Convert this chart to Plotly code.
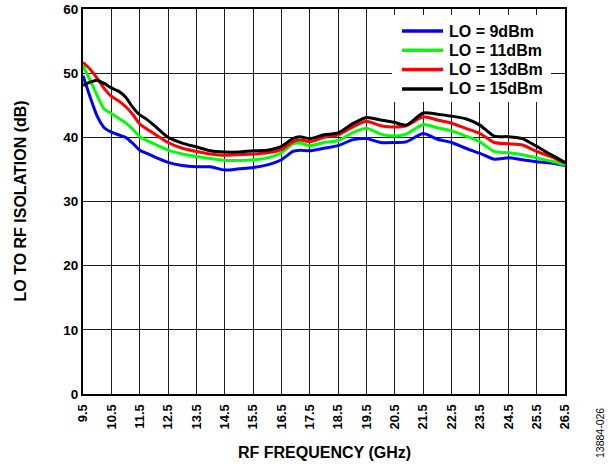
import plotly.graph_objects as go

freq_ghz = [9.5, 9.75, 10.0, 10.25, 10.5, 10.75, 11.0, 11.25, 11.5, 11.75, 12.0, 12.5, 13.0, 13.5,
            14.0, 14.5, 15.0, 15.5, 16.0, 16.5, 16.9, 17.15, 17.5, 18.0, 18.5, 19.0, 19.5, 20.0,
            20.5, 20.9, 21.5, 22.0, 22.5, 23.0, 23.5, 24.0, 24.5, 25.0, 25.5, 26.0, 26.5]

lo_9dbm = [49.6, 46.3, 43.3, 41.5, 40.8, 40.4, 40.0, 39.1, 38.0, 37.5, 37.0, 36.1, 35.6, 35.4,
           35.4, 34.9, 35.1, 35.3, 35.7, 36.5, 37.8, 38.0, 37.9, 38.3, 38.7, 39.6, 39.8, 39.2,
           39.2, 39.3, 40.6, 39.7, 39.2, 38.3, 37.5, 36.6, 36.8, 36.5, 36.2, 36.0, 35.6]

lo_11dbm = [51.2, 48.9, 46.5, 44.4, 43.7, 43.0, 42.3, 41.3, 40.1, 39.5, 39.0, 38.0, 37.4, 37.0,
            36.7, 36.4, 36.4, 36.5, 36.8, 37.6, 39.0, 39.1, 38.7, 39.2, 39.5, 40.7, 41.4, 40.5,
            40.2, 40.5, 42.0, 41.5, 41.0, 40.2, 39.3, 37.8, 37.6, 37.3, 36.8, 36.3, 35.7]

lo_13dbm = [51.7, 50.6, 49.2, 47.6, 46.4, 45.7, 44.8, 43.6, 42.1, 41.3, 40.6, 39.2, 38.3, 37.8,
            37.4, 37.2, 37.3, 37.4, 37.6, 38.1, 39.3, 39.6, 39.3, 40.0, 40.4, 41.6, 42.5, 41.8,
            41.6, 41.8, 43.2, 42.7, 42.2, 41.4, 40.6, 39.2, 39.0, 38.8, 37.8, 37.0, 36.0]

lo_15dbm = [48.1, 48.6, 48.9, 48.4, 47.7, 47.2, 46.3, 44.7, 43.5, 42.8, 41.9, 40.0, 39.1, 38.5,
            37.9, 37.7, 37.7, 37.9, 38.0, 38.6, 39.8, 40.1, 39.8, 40.4, 40.7, 42.1, 43.1, 42.7,
            42.3, 41.9, 43.8, 43.6, 43.3, 42.9, 41.9, 40.2, 40.1, 39.8, 38.6, 37.3, 36.1]

series_names = ["LO = 9dBm", "LO = 11dBm", "LO = 13dBm", "LO = 15dBm"]
series_values = [lo_9dbm, lo_11dbm, lo_13dbm, lo_15dbm]
series_colors = ["#0000FF", "#00FF00", "#FF0000", "#000000"]

x_tick_vals = [9.5 + i for i in range(18)]
x_tick_text = [f"{v:.1f}" for v in x_tick_vals]
y_tick_vals = [0, 10, 20, 30, 40, 50, 60]

FONT = "Liberation Sans, Arial, sans-serif"

W, H = 616, 464
L, R, T, B = 83, 565, 9, 394   # plot area in pixels


def px(xp):
    return (xp - L) / (R - L)


def py(yp):
    return (B - yp) / (B - T)


fig = go.Figure()
for name, vals, col in zip(series_names, series_values, series_colors):
    fig.add_trace(go.Scatter(
        x=freq_ghz, y=vals, name=name, mode="lines",
        line=dict(color=col, width=3, shape="spline", smoothing=0.6),
        showlegend=False,
    ))

# custom legend: white box + line samples + labels
shapes = [dict(type="rect", xref="paper", yref="paper", x0=px(392), x1=px(551),
               y0=py(102), y1=py(15), fillcolor="white", line=dict(width=0), layer="above")]
annotations = []
row_y = [31, 50.3, 69.6, 88.9]
for i, (name, col) in enumerate(zip(series_names, series_colors)):
    yy = py(row_y[i])
    shapes.append(dict(type="line", xref="paper", yref="paper", x0=px(402), x1=px(443),
                       y0=yy, y1=yy, line=dict(color=col, width=3.5), layer="above"))
    annotations.append(dict(text=f"<b>{name}</b>", xref="paper", yref="paper", x=px(447), y=yy,
                            xanchor="left", yanchor="middle", showarrow=False,
                            font=dict(family=FONT, size=16, color="black")))

annotations += [
    dict(text="13884-026", xref="paper", yref="paper", x=px(600), y=py(433), textangle=-90,
         showarrow=False, xanchor="center", yanchor="middle",
         font=dict(family=FONT, size=10.5, color="black")),
    dict(text="<b>RF FREQUENCY (GHz)</b>", xref="paper", yref="paper", x=px(324), y=py(452),
         showarrow=False, xanchor="center", yanchor="middle",
         font=dict(family=FONT, size=16, color="black")),
    dict(text="<b>LO TO RF ISOLATION (dB)</b>", xref="paper", yref="paper", x=px(20), y=py(201.5),
         textangle=-90, showarrow=False, xanchor="center", yanchor="middle",
         font=dict(family=FONT, size=16, color="black")),
]

fig.update_layout(
    width=W, height=H,
    margin=dict(l=L, r=W - R, t=T, b=H - B, autoexpand=False),
    paper_bgcolor="white", plot_bgcolor="white",
    font=dict(family=FONT, color="black"),
    showlegend=False, hovermode=False,
    shapes=shapes, annotations=annotations,
    xaxis=dict(
        range=[9.5, 26.5], tickvals=x_tick_vals, ticktext=x_tick_text,
        tickangle=-90, showgrid=True, gridcolor="#1a1a1a", gridwidth=1,
        showline=True, linecolor="black", linewidth=2, mirror=True,
        ticks="", zeroline=False, automargin=False, ticklabelstandoff=3,
        ticklabeloverflow="allow",
        tickfont=dict(family=FONT, size=13, color="black", weight="bold"),
    ),
    yaxis=dict(
        range=[0, 60], tickvals=y_tick_vals, showgrid=True, gridcolor="#1a1a1a", gridwidth=1,
        showline=True, linecolor="black", linewidth=2, mirror=True,
        ticks="", zeroline=False, automargin=False, ticklabelstandoff=0,
        ticklabeloverflow="allow",
        tickfont=dict(family=FONT, size=13.5, color="black", weight="bold"),
    ),
)

# remove the browser's default 8px body margin so the figure fills the window
fig.write_html("out.html",
               config={"displayModeBar": False, "staticPlot": True},
               post_script="document.body.style.margin='0px';document.body.style.overflow='hidden';")
